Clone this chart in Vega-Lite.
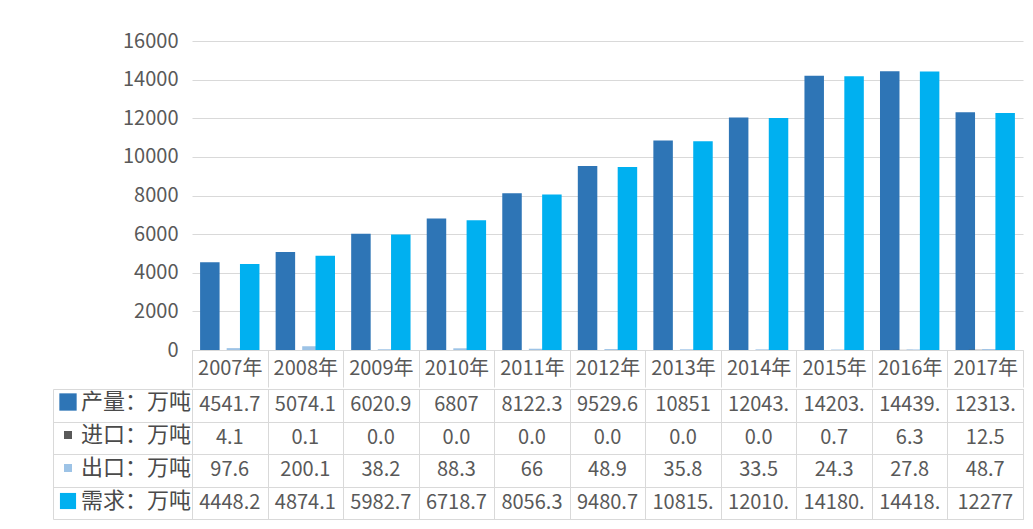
{
  "$schema": "https://vega.github.io/schema/vega-lite/v6.json",
  "padding": {"left": 52, "top": 31, "right": 5, "bottom": 5},
  "config": {
    "font": "Noto Sans CJK SC",
    "view": {"stroke": null},
    "concat": {"spacing": 0}
  },
  "datasets": {
    "t": [
      {"year": "2007年", "series": "产量：万吨", "value": 4541.7, "label": "4541.7"},
      {"year": "2008年", "series": "产量：万吨", "value": 5074.1, "label": "5074.1"},
      {"year": "2009年", "series": "产量：万吨", "value": 6020.9, "label": "6020.9"},
      {"year": "2010年", "series": "产量：万吨", "value": 6807, "label": "6807"},
      {"year": "2011年", "series": "产量：万吨", "value": 8122.3, "label": "8122.3"},
      {"year": "2012年", "series": "产量：万吨", "value": 9529.6, "label": "9529.6"},
      {"year": "2013年", "series": "产量：万吨", "value": 10851, "label": "10851"},
      {"year": "2014年", "series": "产量：万吨", "value": 12043, "label": "12043."},
      {"year": "2015年", "series": "产量：万吨", "value": 14203, "label": "14203."},
      {"year": "2016年", "series": "产量：万吨", "value": 14439, "label": "14439."},
      {"year": "2017年", "series": "产量：万吨", "value": 12313, "label": "12313."},
      {"year": "2007年", "series": "进口：万吨", "value": 4.1, "label": "4.1"},
      {"year": "2008年", "series": "进口：万吨", "value": 0.1, "label": "0.1"},
      {"year": "2009年", "series": "进口：万吨", "value": 0, "label": "0.0"},
      {"year": "2010年", "series": "进口：万吨", "value": 0, "label": "0.0"},
      {"year": "2011年", "series": "进口：万吨", "value": 0, "label": "0.0"},
      {"year": "2012年", "series": "进口：万吨", "value": 0, "label": "0.0"},
      {"year": "2013年", "series": "进口：万吨", "value": 0, "label": "0.0"},
      {"year": "2014年", "series": "进口：万吨", "value": 0, "label": "0.0"},
      {"year": "2015年", "series": "进口：万吨", "value": 0.7, "label": "0.7"},
      {"year": "2016年", "series": "进口：万吨", "value": 6.3, "label": "6.3"},
      {"year": "2017年", "series": "进口：万吨", "value": 12.5, "label": "12.5"},
      {"year": "2007年", "series": "出口：万吨", "value": 97.6, "label": "97.6"},
      {"year": "2008年", "series": "出口：万吨", "value": 200.1, "label": "200.1"},
      {"year": "2009年", "series": "出口：万吨", "value": 38.2, "label": "38.2"},
      {"year": "2010年", "series": "出口：万吨", "value": 88.3, "label": "88.3"},
      {"year": "2011年", "series": "出口：万吨", "value": 66, "label": "66"},
      {"year": "2012年", "series": "出口：万吨", "value": 48.9, "label": "48.9"},
      {"year": "2013年", "series": "出口：万吨", "value": 35.8, "label": "35.8"},
      {"year": "2014年", "series": "出口：万吨", "value": 33.5, "label": "33.5"},
      {"year": "2015年", "series": "出口：万吨", "value": 24.3, "label": "24.3"},
      {"year": "2016年", "series": "出口：万吨", "value": 27.8, "label": "27.8"},
      {"year": "2017年", "series": "出口：万吨", "value": 48.7, "label": "48.7"},
      {"year": "2007年", "series": "需求：万吨", "value": 4448.2, "label": "4448.2"},
      {"year": "2008年", "series": "需求：万吨", "value": 4874.1, "label": "4874.1"},
      {"year": "2009年", "series": "需求：万吨", "value": 5982.7, "label": "5982.7"},
      {"year": "2010年", "series": "需求：万吨", "value": 6718.7, "label": "6718.7"},
      {"year": "2011年", "series": "需求：万吨", "value": 8056.3, "label": "8056.3"},
      {"year": "2012年", "series": "需求：万吨", "value": 9480.7, "label": "9480.7"},
      {"year": "2013年", "series": "需求：万吨", "value": 10815, "label": "10815."},
      {"year": "2014年", "series": "需求：万吨", "value": 12010, "label": "12010."},
      {"year": "2015年", "series": "需求：万吨", "value": 14180, "label": "14180."},
      {"year": "2016年", "series": "需求：万吨", "value": 14418, "label": "14418."},
      {"year": "2017年", "series": "需求：万吨", "value": 12277, "label": "12277"}
    ]
  },
  "vconcat": [
    {
      "width": 831,
      "height": 309,
      "data": {"name": "t"},
      "mark": {"type": "bar", "size": 19.5},
      "encoding": {
        "x": {
          "field": "year", "type": "nominal", "sort": null,
          "scale": {"paddingInner": 0, "paddingOuter": 0},
          "axis": {
            "title": null, "labelAngle": 0, "grid": false,
            "domain": true, "domainColor": "#d9d9d9",
            "ticks": true, "tickBand": "extent", "tickSize": 37, "tickColor": "#d9d9d9",
            "labelPadding": -19, "labelBaseline": "middle",
            "labelFontSize": 20, "labelColor": "#595959", "labelFont": "Noto Sans CJK SC"
          }
        },
        "xOffset": {
          "field": "series", "type": "nominal",
          "scale": {"domain": ["产量：万吨", "进口：万吨", "出口：万吨", "需求：万吨"], "paddingInner": 0, "paddingOuter": 0.842}
        },
        "y": {
          "field": "value", "type": "quantitative",
          "scale": {"domain": [0, 16000], "nice": false},
          "axis": {
            "title": null, "values": [0, 2000, 4000, 6000, 8000, 10000, 12000, 14000, 16000], "format": "d",
            "grid": true, "gridColor": "#d9d9d9", "domain": false, "ticks": false,
            "labelPadding": 14, "labelFontSize": 20, "labelColor": "#595959", "labelFont": "Noto Sans CJK SC"
          }
        },
        "color": {
          "field": "series", "type": "nominal",
          "scale": {
            "domain": ["产量：万吨", "进口：万吨", "出口：万吨", "需求：万吨"],
            "range": ["#2e75b6", "#595959", "#9dc3e6", "#00b0f0"]
          },
          "legend": {
            "title": null, "orient": "none", "legendX": -135, "legendY": 350,
            "direction": "vertical", "padding": 0, "offset": 0,
            "symbolType": "square", "symbolSize": 300, "symbolStrokeWidth": 0,
            "rowPadding": 11, "labelOffset": 2,
            "labelFontSize": 22, "labelColor": "#4a4a4a", "labelFont": "Noto Sans CJK SC", "labelLimit": 200,
            "encode": {
              "symbols": {
                "update": {
                  "size": {"signal": "datum.value === '产量：万吨' ? 300 : datum.value === '需求：万吨' ? 260 : 64"}
                }
              }
            }
          }
        }
      }
    },
    {
      "width": 831,
      "height": 130,
      "view": {"stroke": "#d9d9d9"},
      "data": {"name": "t"},
      "mark": {"type": "text", "fontSize": 20, "color": "#595959", "font": "Noto Sans CJK SC"},
      "encoding": {
        "x": {
          "field": "year", "type": "nominal", "sort": null,
          "scale": {"paddingInner": 0, "paddingOuter": 0},
          "axis": {"title": null, "labels": false, "ticks": false, "domain": false, "grid": true, "tickBand": "extent", "gridColor": "#d9d9d9"}
        },
        "y": {
          "field": "series", "type": "nominal",
          "scale": {"domain": ["产量：万吨", "进口：万吨", "出口：万吨", "需求：万吨"], "paddingInner": 0, "paddingOuter": 0},
          "axis": {
            "title": null, "labels": false, "offset": 139,
            "domain": true, "domainColor": "#d9d9d9",
            "ticks": true, "tickSize": -139, "tickBand": "extent", "tickColor": "#d9d9d9",
            "grid": true, "gridColor": "#d9d9d9"
          }
        },
        "text": {"field": "label"}
      }
    }
  ]
}
